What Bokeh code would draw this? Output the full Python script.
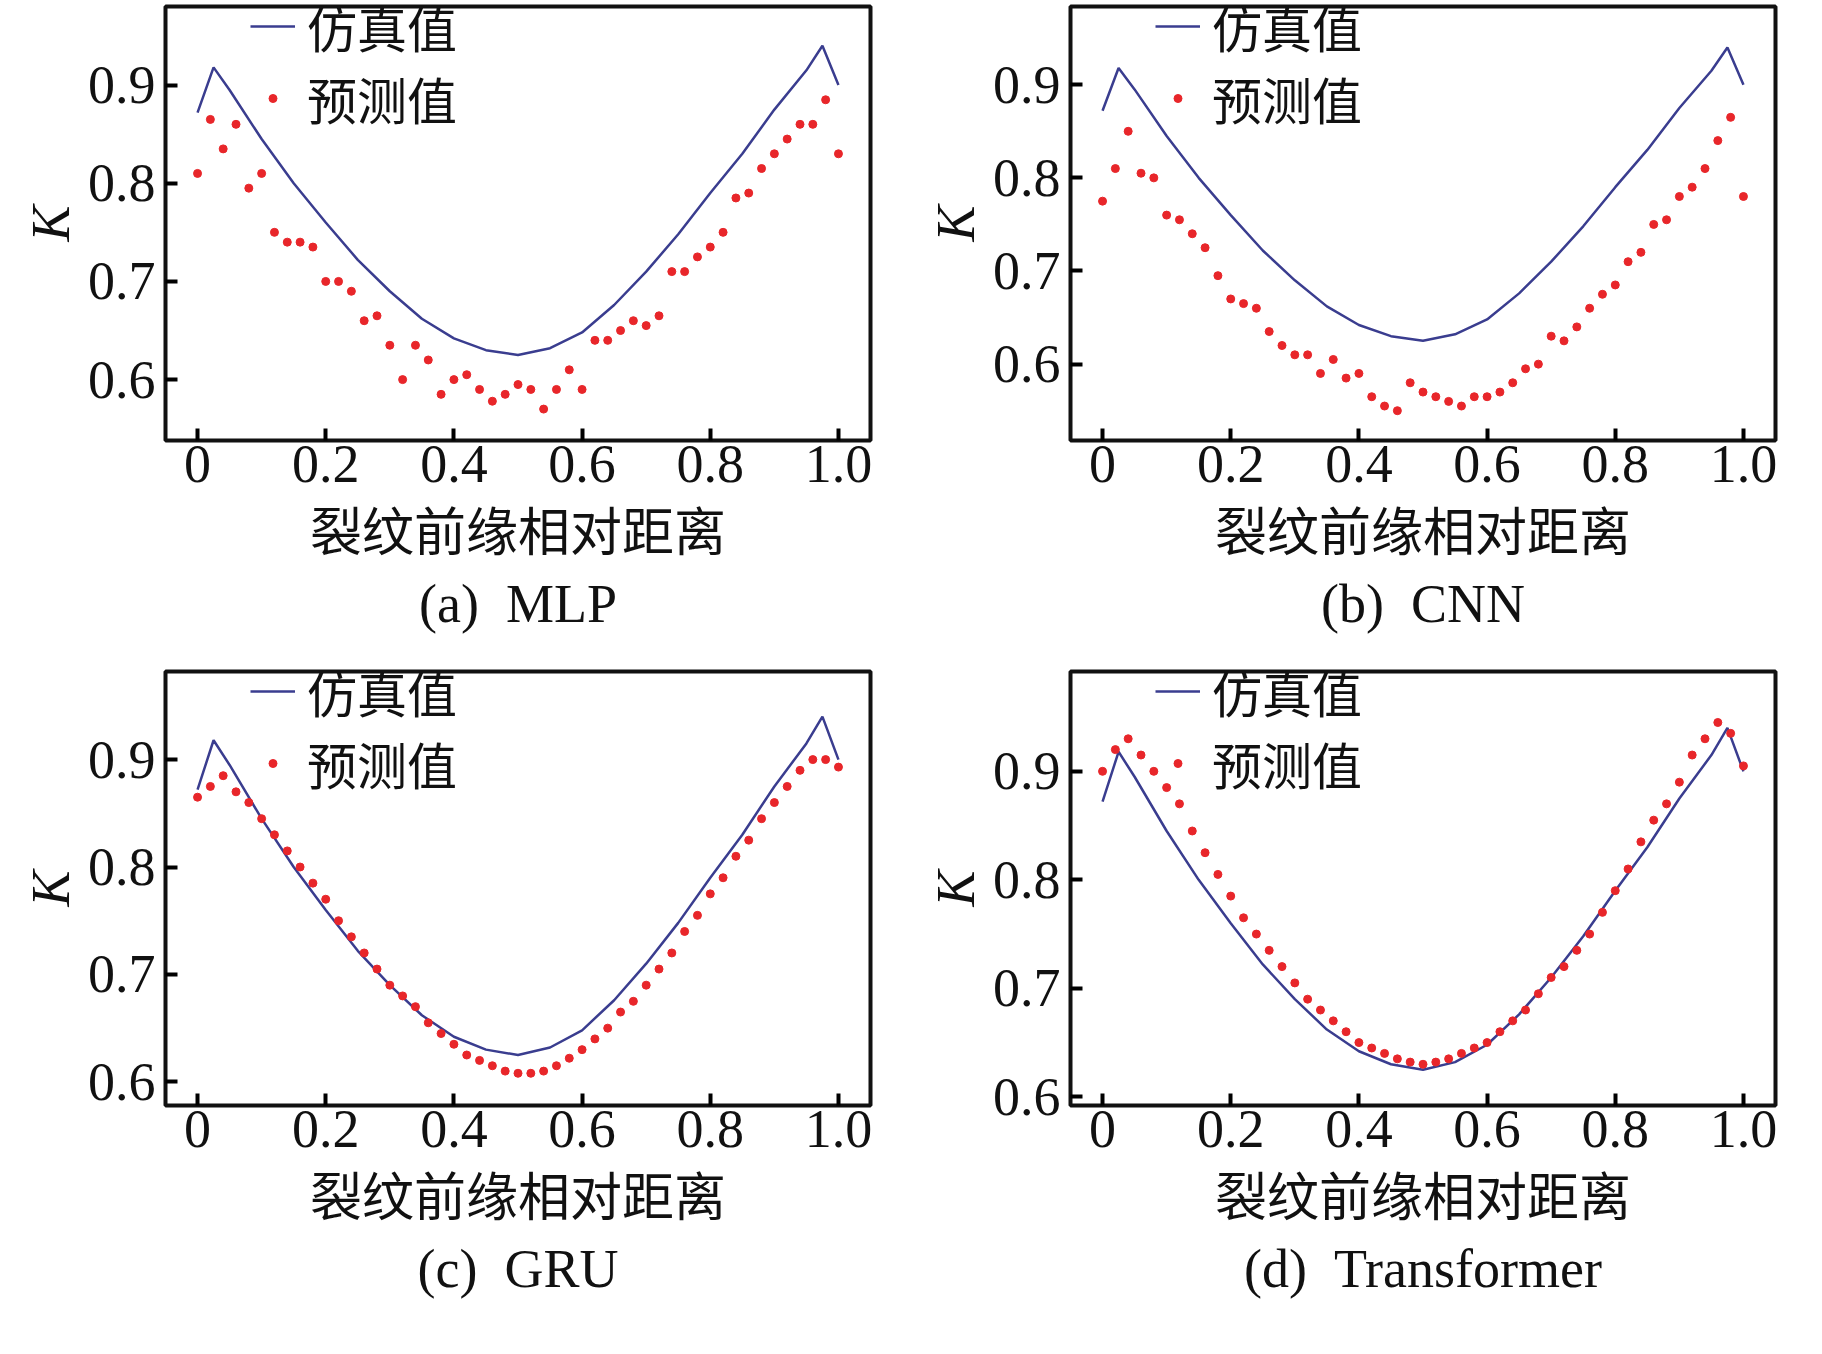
from bokeh.plotting import figure
from bokeh.layouts import gridplot
from bokeh.models import Title, Label, Legend, LegendItem, FixedTicker, Range1d
from bokeh.embed import file_html
from bokeh.resources import INLINE

sim_x = [0, 0.025, 0.05, 0.1, 0.15, 0.2, 0.25, 0.3, 0.35, 0.4, 0.45, 0.5, 0.55, 0.6, 0.65, 0.7, 0.75, 0.8, 0.85, 0.9, 0.95, 0.975, 1.0]
sim_y = [0.872, 0.918, 0.895, 0.845, 0.80, 0.76, 0.722, 0.69, 0.662, 0.642, 0.63, 0.625, 0.632, 0.648, 0.676, 0.71, 0.748, 0.79, 0.83, 0.875, 0.915, 0.94, 0.90]

pred_x = [i / 50 for i in range(51)]
pred_mlp = [0.81, 0.865, 0.835, 0.86, 0.795, 0.81, 0.75, 0.74, 0.74, 0.735, 0.70, 0.70, 0.69, 0.66, 0.665, 0.635, 0.60, 0.635, 0.62, 0.585,
            0.60, 0.605, 0.59, 0.578, 0.585, 0.595, 0.59, 0.57, 0.59, 0.61, 0.59, 0.64, 0.64, 0.65, 0.66, 0.655, 0.665, 0.71, 0.71, 0.725,
            0.735, 0.75, 0.785, 0.79, 0.815, 0.83, 0.845, 0.86, 0.86, 0.885, 0.83]
pred_cnn = [0.775, 0.81, 0.85, 0.805, 0.80, 0.76, 0.755, 0.74, 0.725, 0.695, 0.67, 0.665, 0.66, 0.635, 0.62, 0.61, 0.61, 0.59, 0.605, 0.585,
            0.59, 0.565, 0.555, 0.55, 0.58, 0.57, 0.565, 0.56, 0.555, 0.565, 0.565, 0.57, 0.58, 0.595, 0.60, 0.63, 0.625, 0.64, 0.66, 0.675,
            0.685, 0.71, 0.72, 0.75, 0.755, 0.78, 0.79, 0.81, 0.84, 0.865, 0.78]
pred_gru = [0.865, 0.875, 0.885, 0.87, 0.86, 0.845, 0.83, 0.815, 0.80, 0.785, 0.77, 0.75, 0.735, 0.72, 0.705, 0.69, 0.68, 0.67, 0.655, 0.645,
            0.635, 0.625, 0.62, 0.615, 0.61, 0.608, 0.608, 0.61, 0.615, 0.622, 0.63, 0.64, 0.65, 0.665, 0.675, 0.69, 0.705, 0.72, 0.74, 0.755,
            0.775, 0.79, 0.81, 0.825, 0.845, 0.86, 0.875, 0.89, 0.90, 0.90, 0.893]
pred_tr = [0.90, 0.92, 0.93, 0.915, 0.90, 0.885, 0.87, 0.845, 0.825, 0.805, 0.785, 0.765, 0.75, 0.735, 0.72, 0.705, 0.69, 0.68, 0.67, 0.66,
           0.65, 0.645, 0.64, 0.635, 0.632, 0.63, 0.632, 0.635, 0.64, 0.645, 0.65, 0.66, 0.67, 0.68, 0.695, 0.71, 0.72, 0.735, 0.75, 0.77,
           0.79, 0.81, 0.835, 0.855, 0.87, 0.89, 0.915, 0.93, 0.945, 0.935, 0.905]

captions = ["(a)\u2002MLP", "(b)\u2002CNN", "(c)\u2002GRU", "(d)\u2002Transformer"]
preds = [pred_mlp, pred_cnn, pred_gru, pred_tr]
yranges = [(0.538, 0.98), (0.518, 0.984), (0.578, 0.982), (0.592, 0.992)]
x_ticks = [0, 0.2, 0.4, 0.6, 0.8, 1.0]
x_tick_labels = {0: "0", 0.2: "0.2", 0.4: "0.4", 0.6: "0.6", 0.8: "0.8", 1.0: "1.0"}
y_ticks = [0.6, 0.7, 0.8, 0.9]
xlabel = "裂纹前缘相对距离"

SERIF = "Liberation Serif"
CJK = "Noto Sans CJK SC"

FRAME_H = 665 - 6 - 225

figs = []
for k in range(4):
    y0, y1 = yranges[k]
    p = figure(width=905, height=665, output_backend="svg", toolbar_location=None,
               x_range=Range1d(-0.05, 1.05), y_range=Range1d(y0, y1),
               min_border_left=165, min_border_right=35, min_border_top=6, min_border_bottom=225)
    p.grid.visible = False
    p.outline_line_color = "#111111"
    p.outline_line_width = 4
    for ax in (p.xaxis[0], p.yaxis[0]):
        ax.axis_line_color = None
        ax.major_tick_in = 12
        ax.major_tick_out = 0
        ax.major_tick_line_width = 4
        ax.minor_tick_line_color = None
        ax.major_label_text_font = SERIF
        ax.major_label_text_font_size = "54px"
        ax.major_label_text_color = "#111111"
    p.xaxis.ticker = FixedTicker(ticks=x_ticks)
    p.xaxis.major_label_overrides = x_tick_labels
    p.yaxis.ticker = FixedTicker(ticks=y_ticks)
    p.yaxis.major_label_standoff = 10
    p.xaxis.axis_label = xlabel
    p.xaxis.axis_label_text_font = CJK
    p.xaxis.axis_label_text_font_size = "52px"
    p.xaxis.axis_label_text_font_style = "normal"
    p.xaxis.axis_label_text_color = "#111111"
    p.xaxis.axis_label_standoff = 6
    p.yaxis.axis_label = "K"
    p.yaxis.axis_label_text_font = SERIF
    p.yaxis.axis_label_text_font_size = "54px"
    p.yaxis.axis_label_text_font_style = "italic"
    p.yaxis.axis_label_text_color = "#111111"
    p.yaxis.axis_label_standoff = 4
    mid = (y0 + y1) / 2
    p.add_layout(Label(x=-0.222, y=mid + 0.022, text="I", angle=1.5708,
                       text_font=SERIF, text_font_size="30px", text_color="#111111"))
    cap = Title(text=captions[k], align="center", text_font=SERIF, text_font_size="54px",
                text_font_style="normal", text_color="#111111", standoff=6)
    p.add_layout(cap, "below")
    l = p.line(sim_x, sim_y, line_color="#3a3d8f", line_width=2.5)
    c = p.scatter(pred_x, preds[k], size=8, color="#e8262a")
    leg = Legend(items=[LegendItem(label="仿真值", renderers=[l]), LegendItem(label="预测值", renderers=[c])],
                 border_line_color=None, background_fill_alpha=0,
                 label_text_font=CJK, label_text_font_size="50px", label_text_color="#111111",
                 glyph_width=45, spacing=0, padding=0, margin=0, label_standoff=12, label_height=62)
    leg.location = (85, FRAME_H - 128)
    p.add_layout(leg)
    figs.append(p)

grid = gridplot([[figs[0], figs[1]], [figs[2], figs[3]]], toolbar_location=None)
open("out.html", "w").write(file_html(grid, INLINE))
